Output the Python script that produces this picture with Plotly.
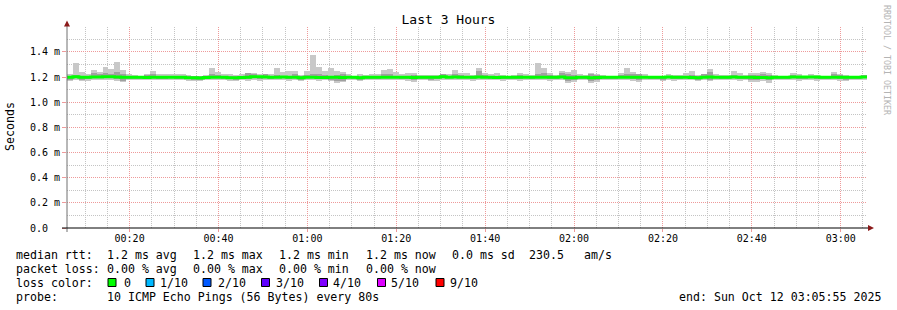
import plotly.graph_objects as go
import pandas as pd

# ---------------- data (values in milliseconds) ----------------
start_time = "2025-10-12 00:05:55"
end_time = "2025-10-12 03:05:55"
step_seconds = 80

ping_max = [
    1.222, 1.315, 1.241, 1.222, 1.257, 1.241, 1.283, 1.262, 1.321, 1.257,
    1.222, 1.214, 1.209, 1.222, 1.249, 1.222, 1.222, 1.222, 1.222, 1.222,
    1.214, 1.209, 1.209, 1.214, 1.275, 1.241, 1.222, 1.222, 1.214, 1.222,
    1.230, 1.230, 1.222, 1.214, 1.222, 1.275, 1.241, 1.249, 1.249, 1.217,
    1.249, 1.376, 1.283, 1.249, 1.270, 1.249, 1.241, 1.222, 1.209, 1.222,
    1.214, 1.222, 1.222, 1.257, 1.262, 1.241, 1.222, 1.230, 1.230, 1.214,
    1.214, 1.214, 1.217, 1.225, 1.222, 1.257, 1.236, 1.230, 1.214, 1.270,
    1.230, 1.222, 1.230, 1.214, 1.209, 1.214, 1.236, 1.225, 1.217, 1.315,
    1.275, 1.236, 1.214, 1.249, 1.241, 1.257, 1.222, 1.214, 1.230, 1.222,
    1.214, 1.209, 1.209, 1.236, 1.275, 1.241, 1.225, 1.222, 1.209, 1.209,
    1.209, 1.225, 1.214, 1.214, 1.236, 1.245, 1.214, 1.222, 1.265, 1.222,
    1.214, 1.214, 1.249, 1.230, 1.214, 1.230, 1.230, 1.241, 1.230, 1.217,
    1.209, 1.209, 1.236, 1.222, 1.209, 1.225, 1.214, 1.209, 1.209, 1.241,
    1.225, 1.214, 1.209, 1.209, 1.217,
]

ping_min = [
    1.169, 1.177, 1.169, 1.169, 1.177, 1.177, 1.177, 1.177, 1.172, 1.160,
    1.177, 1.177, 1.177, 1.177, 1.177, 1.180, 1.180, 1.180, 1.180, 1.177,
    1.172, 1.166, 1.166, 1.177, 1.177, 1.180, 1.177, 1.172, 1.169, 1.177,
    1.172, 1.177, 1.172, 1.177, 1.177, 1.177, 1.177, 1.172, 1.177, 1.169,
    1.177, 1.177, 1.172, 1.177, 1.169, 1.156, 1.160, 1.177, 1.177, 1.169,
    1.177, 1.177, 1.177, 1.177, 1.177, 1.177, 1.177, 1.172, 1.164, 1.177,
    1.177, 1.169, 1.172, 1.177, 1.177, 1.177, 1.177, 1.177, 1.172, 1.177,
    1.177, 1.177, 1.177, 1.172, 1.177, 1.177, 1.172, 1.177, 1.177, 1.177,
    1.177, 1.172, 1.177, 1.177, 1.156, 1.164, 1.177, 1.177, 1.156, 1.160,
    1.177, 1.177, 1.177, 1.177, 1.177, 1.172, 1.164, 1.177, 1.177, 1.177,
    1.169, 1.177, 1.172, 1.177, 1.177, 1.177, 1.169, 1.177, 1.169, 1.177,
    1.177, 1.177, 1.177, 1.172, 1.177, 1.164, 1.164, 1.172, 1.156, 1.177,
    1.177, 1.177, 1.177, 1.172, 1.177, 1.177, 1.172, 1.177, 1.177, 1.177,
    1.172, 1.169, 1.177, 1.177, 1.177,
]

mid_hi = [
    1.205, 1.214, 1.209, 1.205, 1.230, 1.222, 1.230, 1.222, 1.241, 1.222,
    1.205, 1.205, 1.205, 1.214, 1.222, 1.205, 1.205, 1.209, 1.205, 1.205,
    1.205, 1.205, 1.205, 1.205, 1.222, 1.214, 1.205, 1.205, 1.205, 1.209,
    1.230, 1.222, 1.209, 1.222, 1.205, 1.214, 1.209, 1.209, 1.225, 1.205,
    1.217, 1.222, 1.222, 1.214, 1.209, 1.214, 1.225, 1.209, 1.205, 1.209,
    1.205, 1.205, 1.205, 1.222, 1.222, 1.209, 1.205, 1.209, 1.214, 1.205,
    1.205, 1.205, 1.205, 1.222, 1.209, 1.222, 1.214, 1.209, 1.205, 1.249,
    1.214, 1.205, 1.209, 1.205, 1.205, 1.205, 1.214, 1.209, 1.205, 1.222,
    1.236, 1.214, 1.205, 1.236, 1.222, 1.214, 1.205, 1.205, 1.225, 1.214,
    1.205, 1.205, 1.205, 1.214, 1.222, 1.222, 1.222, 1.209, 1.205, 1.205,
    1.205, 1.209, 1.205, 1.205, 1.209, 1.214, 1.205, 1.222, 1.241, 1.209,
    1.205, 1.205, 1.214, 1.209, 1.205, 1.214, 1.214, 1.222, 1.214, 1.205,
    1.205, 1.205, 1.214, 1.209, 1.205, 1.209, 1.205, 1.205, 1.205, 1.222,
    1.214, 1.205, 1.205, 1.205, 1.217,
]

mid_lo = [
    1.180, 1.190, 1.180, 1.185, 1.190, 1.190, 1.190, 1.190, 1.185, 1.172,
    1.190, 1.190, 1.190, 1.190, 1.190, 1.190, 1.190, 1.190, 1.190, 1.190,
    1.185, 1.180, 1.180, 1.190, 1.190, 1.190, 1.190, 1.185, 1.180, 1.190,
    1.185, 1.190, 1.185, 1.190, 1.190, 1.190, 1.190, 1.185, 1.190, 1.180,
    1.190, 1.190, 1.185, 1.190, 1.180, 1.170, 1.172, 1.190, 1.190, 1.180,
    1.190, 1.190, 1.190, 1.190, 1.190, 1.190, 1.190, 1.185, 1.178, 1.190,
    1.190, 1.180, 1.185, 1.190, 1.190, 1.190, 1.190, 1.190, 1.185, 1.190,
    1.190, 1.190, 1.190, 1.185, 1.190, 1.190, 1.185, 1.190, 1.190, 1.190,
    1.190, 1.185, 1.190, 1.190, 1.172, 1.178, 1.190, 1.190, 1.170, 1.175,
    1.190, 1.190, 1.190, 1.190, 1.190, 1.185, 1.178, 1.190, 1.190, 1.190,
    1.180, 1.190, 1.185, 1.190, 1.190, 1.190, 1.180, 1.190, 1.180, 1.190,
    1.190, 1.190, 1.190, 1.185, 1.190, 1.178, 1.178, 1.185, 1.175, 1.190,
    1.190, 1.190, 1.190, 1.185, 1.190, 1.190, 1.185, 1.190, 1.190, 1.190,
    1.185, 1.180, 1.190, 1.190, 1.190,
]

median_rtt = [
    1.199, 1.203, 1.199, 1.199, 1.201, 1.201, 1.203, 1.203, 1.201, 1.199,
    1.199, 1.199, 1.199, 1.197, 1.199, 1.199, 1.199, 1.199, 1.199, 1.199,
    1.195, 1.195, 1.193, 1.197, 1.199, 1.199, 1.199, 1.195, 1.195, 1.197,
    1.199, 1.203, 1.203, 1.201, 1.199, 1.199, 1.201, 1.199, 1.199, 1.195,
    1.199, 1.199, 1.197, 1.197, 1.199, 1.199, 1.197, 1.199, 1.199, 1.195,
    1.199, 1.199, 1.199, 1.199, 1.199, 1.199, 1.199, 1.199, 1.197, 1.199,
    1.199, 1.199, 1.199, 1.203, 1.199, 1.201, 1.199, 1.199, 1.199, 1.201,
    1.199, 1.199, 1.197, 1.199, 1.199, 1.199, 1.199, 1.199, 1.199, 1.199,
    1.199, 1.199, 1.199, 1.201, 1.195, 1.195, 1.199, 1.199, 1.195, 1.197,
    1.199, 1.199, 1.199, 1.199, 1.199, 1.199, 1.199, 1.199, 1.199, 1.199,
    1.199, 1.201, 1.199, 1.199, 1.199, 1.197, 1.195, 1.199, 1.201, 1.199,
    1.199, 1.199, 1.201, 1.199, 1.199, 1.199, 1.197, 1.197, 1.195, 1.199,
    1.199, 1.199, 1.201, 1.201, 1.201, 1.201, 1.201, 1.199, 1.199, 1.199,
    1.199, 1.199, 1.199, 1.199, 1.201,
]

y_tick_vals = [0.0, 0.2, 0.4, 0.6, 0.8, 1.0, 1.2, 1.4]
y_tick_text = ["0.0\u00a0\u00a0", "0.2 m", "0.4 m", "0.6 m", "0.8 m", "1.0 m", "1.2 m", "1.4 m"]

loss_labels = ["0", "1/10", "2/10", "3/10", "4/10", "5/10", "9/10"]
loss_colors = ["#00ff00", "#00b8ff", "#0059ff", "#5e00ff", "#7e00ff", "#dd00ff", "#ff0000"]

rtt_stats = ["1.2 ms avg", "1.2 ms max", "1.2 ms min", "1.2 ms now", "0.0 ms sd", "230.5", "am/s"]
loss_stats = ["0.00 % avg", "0.00 % max", "0.00 % min", "0.00 % now"]
probe_text = "10 ICMP Echo Pings (56 Bytes) every 80s"
end_text = "end: Sun Oct 12 03:05:55 2025"

# ---------------- geometry helpers (layout only) ----------------
W, H = 897, 310
L, R, T, B = 67, 867, 27, 228


def px(x):
    return (x - L) / (R - L)


def py(y):
    return (B - y) / (B - T)


MONO = "DejaVu Sans Mono"
LIGHT = "#c8c8c8"
MID = "#a0a0a0"
GRID = "#c4c4c4"
MGRID = "#ee9a9a"

n = len(ping_max)
t0 = pd.Timestamp(start_time)
step = pd.Timedelta(seconds=step_seconds)
centers = [t0 + step * (i + 0.5) for i in range(n)]
edges = [t0 + step * i for i in range(n + 1)]

fig = go.Figure()
fig.add_trace(go.Bar(
    x=centers, base=ping_min, y=[a - b for a, b in zip(ping_max, ping_min)],
    width=step_seconds * 1000, marker=dict(color=LIGHT, line=dict(width=0)),
    hoverinfo="skip", showlegend=False))
fig.add_trace(go.Bar(
    x=centers, base=mid_lo, y=[a - b for a, b in zip(mid_hi, mid_lo)],
    width=step_seconds * 1000, marker=dict(color=MID, line=dict(width=0)),
    hoverinfo="skip", showlegend=False))
fig.add_trace(go.Scatter(
    x=edges, y=median_rtt + [median_rtt[-1]], mode="lines",
    line=dict(color="#00ff00", width=3, shape="hv"),
    hoverinfo="skip", showlegend=False))

fig.update_layout(
    width=W, height=H,
    margin=dict(l=L, r=W - R, t=T, b=H - B, pad=0),
    paper_bgcolor="white", plot_bgcolor="white",
    barmode="overlay", bargap=0,
    showlegend=False,
    font=dict(family=MONO, size=10, color="black"),
    title=dict(text="Last 3 Hours", x=0.5, xref="container", xanchor="center",
               y=1 - 19 / H, yref="container", yanchor="middle",
               font=dict(family=MONO, size=13, color="black")),
)

fig.update_xaxes(
    type="date", range=[start_time, end_time],
    tick0="2025-10-12 00:00:00", dtick=20 * 60 * 1000, tickformat="%H:%M",
    showgrid=True, gridcolor=MGRID, griddash="1px,1px", gridwidth=1,
    ticks="outside", ticklen=3, tickcolor=MGRID, ticklabelstandoff=-2,
    minor=dict(tick0="2025-10-12 00:00:00", dtick=5 * 60 * 1000, showgrid=True,
               gridcolor=GRID, griddash="1px,1px", gridwidth=1, ticks=""),
    showline=False, zeroline=False,
    tickfont=dict(family=MONO, size=10, color="black"),
    fixedrange=True,
)
fig.update_yaxes(
    range=[0, 1.598], tickvals=y_tick_vals, ticktext=y_tick_text,
    showgrid=True, gridcolor=MGRID, griddash="1px,1px", gridwidth=1,
    ticks="outside", ticklen=4, tickcolor=MGRID,
    minor=dict(dtick=0.1, tick0=0, showgrid=True, gridcolor=GRID,
               griddash="1px,1px", gridwidth=1, ticks=""),
    showline=False, zeroline=False,
    tickfont=dict(family=MONO, size=10, color="black"),
    fixedrange=True,
)

shapes = []
# axes lines
shapes.append(dict(type="line", xref="paper", yref="paper", x0=px(67), x1=px(67),
                   y0=py(232), y1=py(24), line=dict(color="#707070", width=1), layer="above"))
shapes.append(dict(type="line", xref="paper", yref="paper", x0=px(62), x1=px(869),
                   y0=py(228), y1=py(228), line=dict(color="#000000", width=1), layer="above"))
# arrows
shapes.append(dict(type="path", xref="paper", yref="paper",
                   path=f"M {px(64)},{py(26.5)} L {px(70)},{py(26.5)} L {px(67)},{py(20.5)} Z",
                   fillcolor="#8b1a1a", line=dict(width=0), layer="above"))
shapes.append(dict(type="path", xref="paper", yref="paper",
                   path=f"M {px(868)},{py(225)} L {px(868)},{py(231)} L {px(874)},{py(228)} Z",
                   fillcolor="#8b1a1a", line=dict(width=0), layer="above"))

# loss colour swatches
box_left = [108, 146, 203, 261.5, 319.5, 377.5, 436]
label_left = [123.5, 159.5, 217.5, 275.5, 333, 391, 449.5]
for bl, col in zip(box_left, loss_colors):
    shapes.append(dict(type="rect", xref="paper", yref="paper",
                       x0=px(bl), x1=px(bl + 8), y0=py(286.5), y1=py(278.5),
                       fillcolor=col, line=dict(color="black", width=1), layer="above"))

annotations = []


def txt(s, x, y, anchor="left", size=11.6, color="black", angle=0):
    annotations.append(dict(
        text=s.replace(" ", "\u00a0"), x=px(x), y=py(y), xref="paper", yref="paper",
        xanchor=anchor, yanchor="middle", showarrow=False, textangle=angle,
        borderpad=0, borderwidth=0,
        font=dict(family=MONO, size=size, color=color)))


stat_x = [107.3, 193.3, 279.3, 365.7, 451.7, 528.5, 584]
txt("median rtt:", 16, 254.5)
for s, x in zip(rtt_stats, stat_x):
    txt(s, x, 254.5)
txt("packet loss:", 16, 268.5)
for s, x in zip(loss_stats, stat_x):
    txt(s, x, 268.5)
txt("loss color:", 16, 282.5)
for s, x in zip(loss_labels, label_left):
    txt(s, x, 282.5)
txt("probe:", 16, 296.5)
txt(probe_text, 107.3, 296.5)
txt(end_text, 881, 296.5, anchor="right")

annotations.append(dict(
    text="Seconds", x=px(10), y=py(127), xref="paper", yref="paper",
    xanchor="center", yanchor="middle", showarrow=False, textangle=-90,
    font=dict(family=MONO, size=11.6, color="black")))
annotations.append(dict(
    text="RRDTOOL / TOBI OETIKER", x=px(887), y=py(60), xref="paper", yref="paper",
    xanchor="center", yanchor="middle", showarrow=False, textangle=90,
    font=dict(family=MONO, size=8.3, color="#b4b4b4")))

fig.update_layout(shapes=shapes, annotations=annotations)

fig.write_html("out.html")
